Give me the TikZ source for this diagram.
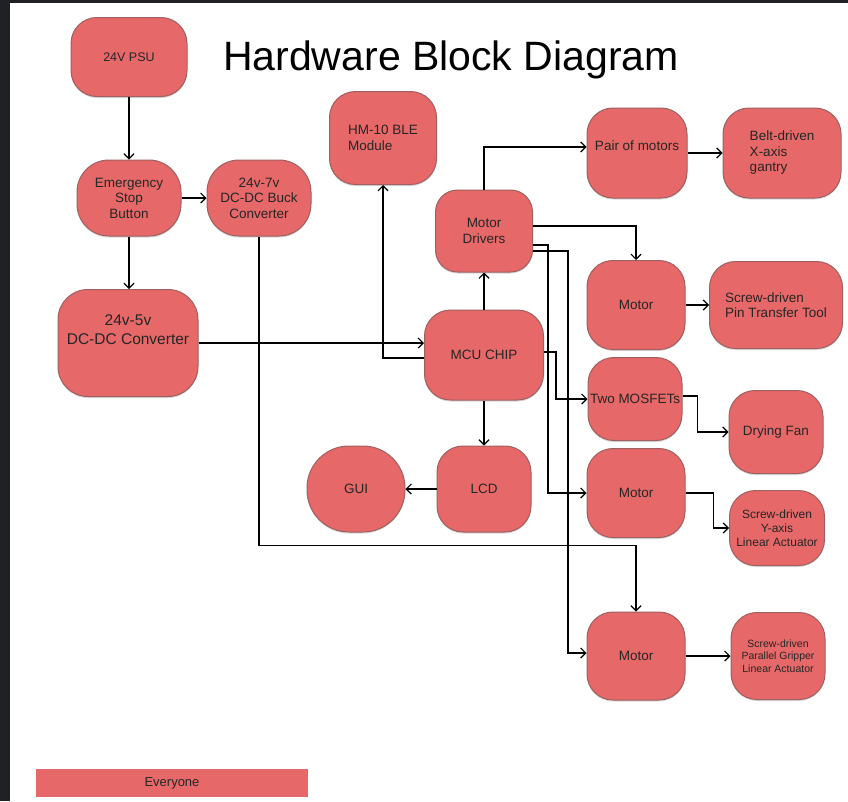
\documentclass[tikz,border=0pt]{standalone}
\usepackage{fontspec}
\setmainfont{Liberation Sans}
\usetikzlibrary{arrows.meta, shadows}

\definecolor{blockred}{RGB}{230,104,104}
\definecolor{blockedge}{RGB}{158,96,96}
\definecolor{framedark}{RGB}{32,33,36}

\tikzset{
  block/.style={fill=blockred, draw=blockedge, line width=1pt, rounded corners=26pt,
    align=center, text=black!85, inner sep=2pt,
    font=\fontsize{13.5pt}{15.5pt}\selectfont,
    drop shadow={shadow xshift=0pt, shadow yshift=-1.5pt, opacity=0.3}},
  link/.style={-{Straight Barb[length=5pt, width=10pt]}, line width=1.2pt}
}

\begin{document}
\begin{tikzpicture}[x=1pt, y=-1pt]
  % page and the dark screenshot edge
  \useasboundingbox (0,0) rectangle (848,801);
  \fill[white] (0,0) rectangle (848,801);
  \fill[framedark] (0,0) rectangle (848,3);
  \fill[framedark] (0,0) rectangle (10,801);

  % Title
  \node (title) at (451,60) {\fontsize{41pt}{46pt}\selectfont Hardware Block Diagram};

  % Power chain on the left
  \node (psu) [block, minimum width=116pt, minimum height=79pt, font=\fontsize{12.5pt}{15pt}\selectfont] at (129,57) {24V PSU};
  \node (estop) [block, minimum width=104pt, minimum height=76pt, rounded corners=32pt] at (129,198) {Emergency\\Stop\\Button};
  \node (buck) [block, minimum width=104pt, minimum height=76pt, rounded corners=32pt] at (259,198) {24v-7v\\DC-DC Buck\\Converter};
  \node (conv_5v) [block, minimum width=140pt, minimum height=107pt, rounded corners=30pt, font=\fontsize{15.5pt}{19pt}\selectfont] at (128,343) {24v-5v\\DC-DC Converter\\[2pt]\strut};

  % Controller and its neighbours
  \node (ble) [block, minimum width=107pt, minimum height=93pt, align=left] at (383,138) {HM-10 BLE\\Module};
  \node (drivers) [block, minimum width=97pt, minimum height=82pt, rounded corners=22pt] at (484,231) {Motor\\Drivers};
  \node (mcu) [block, minimum width=119pt, minimum height=90pt] at (484,355) {MCU CHIP};
  \node (lcd) [block, minimum width=94pt, minimum height=86pt] at (484,489) {LCD};
  \node (gui) [block, minimum width=98pt, minimum height=86pt, rounded corners=42pt] at (356,489) {GUI};

  % Actuators on the right
  \node (pair_motors) [block, minimum width=100pt, minimum height=90pt, inner sep=0pt, text depth=14pt] at (637,153) {Pair of motors};
  \node (belt_gantry) [block, minimum width=118pt, minimum height=90pt, align=left] at (782,153) {Belt-driven\\X-axis\\gantry};
  \node (motor_pin) [block, minimum width=98pt, minimum height=89pt] at (636,305) {Motor};
  \node (pin_tool) [block, minimum width=133pt, minimum height=87pt, align=left] at (776,305) {Screw-driven\\Pin Transfer Tool};
  \node (mosfets) [block, minimum width=94pt, minimum height=83pt, inner sep=0pt] at (635,399) {Two MOSFETs};
  \node (drying_fan) [block, minimum width=94pt, minimum height=83pt] at (776,432) {Drying Fan};
  \node (motor_y) [block, minimum width=98pt, minimum height=89pt] at (636,493) {Motor};
  \node (y_actuator) [block, minimum width=95pt, minimum height=75pt, inner sep=0pt, font=\fontsize{12pt}{14pt}\selectfont] at (777,528) {Screw-driven\\Y-axis\\Linear Actuator};
  \node (motor_grip) [block, minimum width=98pt, minimum height=88pt] at (636,656) {Motor};
  \node (gripper) [block, minimum width=94pt, minimum height=87pt, font=\fontsize{10.5pt}{12.5pt}\selectfont] at (778,656) {Screw-driven\\Parallel Gripper\\Linear Actuator};

  % Legend bar
  \node (everyone) [fill=blockred, minimum width=272pt, minimum height=28pt, text=black!85, font=\fontsize{13pt}{15pt}\selectfont] at (172,783) {Everyone};

  % Power connections
  \draw [link] (psu.south) -- (estop.north);
  \draw [link] (estop.east) -- (buck.west);
  \draw [link] (estop.south) -- (conv_5v.north -| estop.south);
  \draw [link] (conv_5v.east) -- (conv_5v.east -| mcu.west);
  \draw [link] (buck.south) |- ([yshift=-13pt]lcd.south) -| (motor_grip.north);

  % Controller connections
  \draw [link] ([yshift=-3pt]mcu.west) -| (ble.south);
  \draw [link] (mcu.north) -- (drivers.south);
  \draw [link] (mcu.south) -- (lcd.north);
  \draw [link] (lcd.west) -- (gui.east);
  \draw [link] ([yshift=3pt]mcu.east) -- ++(12pt,0) |- (mosfets.west);

  % Motor driver outputs
  \draw [link] (drivers.north) |- ([yshift=6pt]pair_motors.west);
  \draw [link] ([yshift=5pt]drivers.east) -| (motor_pin.north);
  \draw [link] ([yshift=-14pt]drivers.east) -- ++(15pt,0) |- (motor_y.west);
  \draw [link] ([yshift=-20pt]drivers.east) -- ++(35pt,0) |- ([yshift=3pt]motor_grip.west);

  % Loads
  \draw [link] (pair_motors.east) -- (belt_gantry.west);
  \draw [link] (motor_pin.east) -- (pin_tool.west);
  \draw [link] ([yshift=3pt]mosfets.east) -- ++(15pt,0) |- (drying_fan.west);
  \draw [link] (motor_y.east) -- ++(28pt,0) |- (y_actuator.west);
  \draw [link] (motor_grip.east) -- (gripper.west);
\end{tikzpicture}
\end{document}
